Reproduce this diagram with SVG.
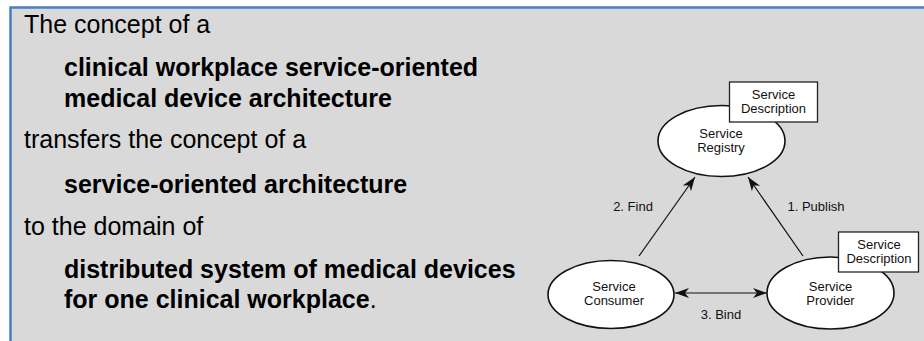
<svg xmlns="http://www.w3.org/2000/svg" width="924" height="341" viewBox="0 0 924 341">
<style>
.t{font-family:"Liberation Sans",Arial,sans-serif;font-size:25px;fill:#000}
.b{font-weight:bold}
.s{font-family:"Liberation Sans",Arial,sans-serif;font-size:13px;fill:#111;text-anchor:middle}
.node{fill:#fff;stroke:#111;stroke-width:1.6}
.box{fill:#fff;stroke:#222;stroke-width:1.3}
.conn{stroke:#111;stroke-width:1.2;fill:none}
</style>
<defs>
<marker id="ah" viewBox="-16 -7 17 14" refX="0" refY="0" markerWidth="17" markerHeight="14" markerUnits="userSpaceOnUse" orient="auto-start-reverse">
<path d="M0,0 L-14,-5 L-10,0 L-14,5 Z" fill="#111"/>
</marker>
</defs>
<rect x="0" y="0" width="924" height="341" fill="#fff"/>
<rect x="10.5" y="7.5" width="1000" height="1000" fill="#d9d9d9" stroke="#4a7ebf" stroke-width="2.5"/>
<g id="text">
<text class="t" x="24" y="33">The concept of a</text>
<text class="t b" x="64" y="76">clinical workplace service-oriented</text>
<text class="t b" x="64" y="107">medical device architecture</text>
<text class="t" x="24" y="148">transfers the concept of a</text>
<text class="t b" x="64" y="193">service-oriented architecture</text>
<text class="t" x="24" y="235">to the domain of</text>
<text class="t b" x="64" y="278">distributed system of medical devices</text>
<text class="t" x="64" y="308"><tspan class="b">for one clinical workplace</tspan>.</text>
</g>
<g id="connectors">
<line class="conn" x1="639" y1="256" x2="695" y2="177" marker-end="url(#ah)"/>
<line class="conn" x1="803" y1="256" x2="748" y2="177" marker-end="url(#ah)"/>
<line class="conn" x1="675" y1="293" x2="767" y2="293" marker-start="url(#ah)" marker-end="url(#ah)"/>
<text class="s" x="633" y="211">2. Find</text>
<text class="s" x="816" y="211">1. Publish</text>
<text class="s" x="721" y="319">3. Bind</text>
</g>
<g id="registry">
<ellipse class="node" cx="721.5" cy="141" rx="63.5" ry="35.5"/>
<text class="s" x="721" y="138">Service</text>
<text class="s" x="721" y="152">Registry</text>
</g>
<g id="registry-description">
<rect class="box" x="729.5" y="82" width="88" height="40"/>
<text class="s" x="773.5" y="99">Service</text>
<text class="s" x="773.5" y="113">Description</text>
</g>
<g id="consumer">
<ellipse class="node" cx="611" cy="294.5" rx="63" ry="34"/>
<text class="s" x="614" y="291">Service</text>
<text class="s" x="614" y="304.5">Consumer</text>
</g>
<g id="provider">
<ellipse class="node" cx="830.5" cy="293" rx="63.5" ry="36"/>
<text class="s" x="830.5" y="291">Service</text>
<text class="s" x="830.5" y="304.5">Provider</text>
</g>
<g id="provider-description">
<rect class="box" x="838.5" y="232" width="80" height="40"/>
<text class="s" x="879" y="249">Service</text>
<text class="s" x="879" y="263">Description</text>
</g>
</svg>
